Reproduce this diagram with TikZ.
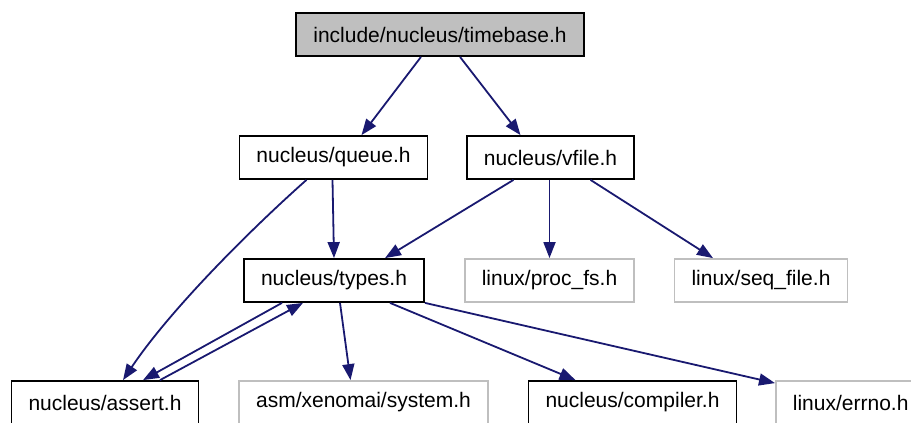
\documentclass[tikz,border=0pt]{standalone}
\usepackage{fontspec}
\setmainfont{Liberation Sans}
\usetikzlibrary{arrows.meta}
\definecolor{edgeblue}{RGB}{25,25,112}
\definecolor{boxgray}{RGB}{191,191,191}

\begin{document}
\begin{tikzpicture}[x=1pt,y=-1pt,
  file/.style={draw=black,line width=1.8pt,minimum height=43pt,inner xsep=17pt,inner ysep=0pt,font=\fontsize{21}{25}\selectfont},
  ext/.style={file,draw=boxgray},
  dep/.style={edgeblue,line width=1.8pt,-{Triangle[length=16pt,width=12pt]}}]
\useasboundingbox (0,0) rectangle (911,423);
\draw (440,34.5) node[file,fill=boxgray] (TB) {include/nucleus/timebase.h};
\draw (333.5,157.5) node[file] (Q) {nucleus/queue.h} (550.5,157.5) node[file] (V) {nucleus/vfile.h};
\draw (334,280.5) node[file] (T) {nucleus/types.h} (549.5,280.5) node[ext] (PF) {linux/proc\_fs.h} (761,280.5) node[ext] (SF) {linux/seq\_file.h};
\draw (105,402.5) node[file] (A) {nucleus/assert.h} (363.5,402.5) node[ext] (S) {asm/xenomai/system.h}
  (632.5,402.5) node[file] (C) {nucleus/compiler.h} (775,402.5) node[ext,anchor=west] (E) {linux/errno.h};

\draw[dep] ([xshift=-19pt]TB.south) -- ([xshift=28pt]Q.north);
\draw[dep] ([xshift=20pt]TB.south) -- ([xshift=-30pt]V.north);
\draw[dep] ([xshift=-1pt]Q.south) -- (T.north);
\draw[dep] ([xshift=-27pt]Q.south) .. controls (250,230) and (170,310) .. ([xshift=18pt]A.north);
\draw[dep] ([xshift=-37pt]V.south) -- ([xshift=51pt]T.north);
\draw[dep] ([xshift=-1pt]V.south) -- (PF.north);
\draw[dep] ([xshift=40pt]V.south) -- ([xshift=-48pt]SF.north);
% types <-> assert
\draw[dep] ([xshift=-52pt]T.south) -- ([xshift=38pt]A.north);
\draw[dep] ([xshift=55pt]A.north) -- ([xshift=-31pt]T.south);
\draw[dep] ([xshift=6pt]T.south) -- ([xshift=-13pt]S.north);
\draw[dep] ([xshift=56pt]T.south) -- ([xshift=-57pt]C.north);
\draw[dep] ([xshift=91pt]T.south) -- ([yshift=-3pt]E.north west);
\end{tikzpicture}
\end{document}
